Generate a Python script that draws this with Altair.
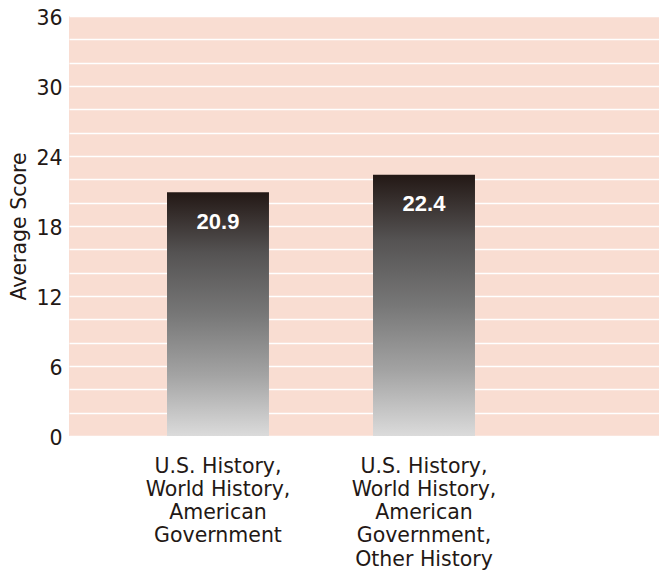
import altair as alt
import pandas as pd

categories = [
    "U.S. History,|World History,|American|Government",
    "U.S. History,|World History,|American|Government,|Other History",
]
scores = [20.9, 22.4]
labels = ["20.9", "22.4"]
grid_values = [0, 2, 4, 6, 8, 10, 12, 14, 16, 18, 20, 22, 24, 26, 28, 30, 32, 34, 36]

df = pd.DataFrame({"cat": categories, "score": scores, "label": labels})

FONT = "DejaVu Sans"
BOLD_FONT = "Liberation Sans"
DARK = "#231815"

x_enc = alt.X(
    "cat:N",
    sort=categories,
    scale=alt.Scale(paddingInner=0.505, paddingOuter=0.6845, align=0.3475),
    axis=alt.Axis(
        title=None,
        labelAngle=0,
        labelExpr="split(datum.label, '|')",
        labelFont=FONT,
        labelFontSize=20.5,
        labelColor=DARK,
        labelLineHeight=23.3,
        labelPadding=20,
        labelBaseline="top",
        labelOverlap=False,
        ticks=False,
        domain=False,
        grid=False,
    ),
)

y_enc = alt.Y(
    "score:Q",
    scale=alt.Scale(domain=[0, 36], nice=False),
    axis=alt.Axis(
        title="Average Score",
        titleFont=FONT,
        titleFontSize=20.5,
        titleFontWeight="normal",
        titleColor=DARK,
        titlePadding=6,
        values=grid_values,
        labelExpr="datum.value % 6 == 0 ? datum.label : ''",
        labelOverlap=False,
        labelFont=FONT,
        labelFontSize=20.5,
        labelColor=DARK,
        labelPadding=7,
        labelOffset=2,
        ticks=False,
        domain=False,
        grid=True,
        gridColor="white",
        gridWidth=1.5,
        gridOpacity=1,
    ),
)

gradient = alt.Gradient(
    gradient="linear",
    stops=[
        alt.GradientStop(color="#231815", offset=0),
        alt.GradientStop(color="#555353", offset=0.25),
        alt.GradientStop(color="#777777", offset=0.5),
        alt.GradientStop(color="#a3a3a3", offset=0.75),
        alt.GradientStop(color="#dbdbdb", offset=1),
    ],
    x1=0, y1=0, x2=0, y2=1,
)

base = alt.Chart(df).encode(x=x_enc, y=y_enc)

bars = base.mark_bar(color=gradient)

text = base.mark_text(
    color="white", font=BOLD_FONT, fontSize=22, fontWeight="bold",
    baseline="middle", dy=29.5,
).encode(text="label:N")

chart = (
    alt.layer(bars, text)
    .properties(
        width=590,
        height=420,
        autosize=alt.AutoSizeParams(type="none"),
        padding={"left": 61, "top": 8, "right": 0, "bottom": 138},
    )
    .configure_view(fill="#f9ddd2", stroke=None)
)

chart.save("out.html", embed_options={"renderer": "svg", "actions": False})
